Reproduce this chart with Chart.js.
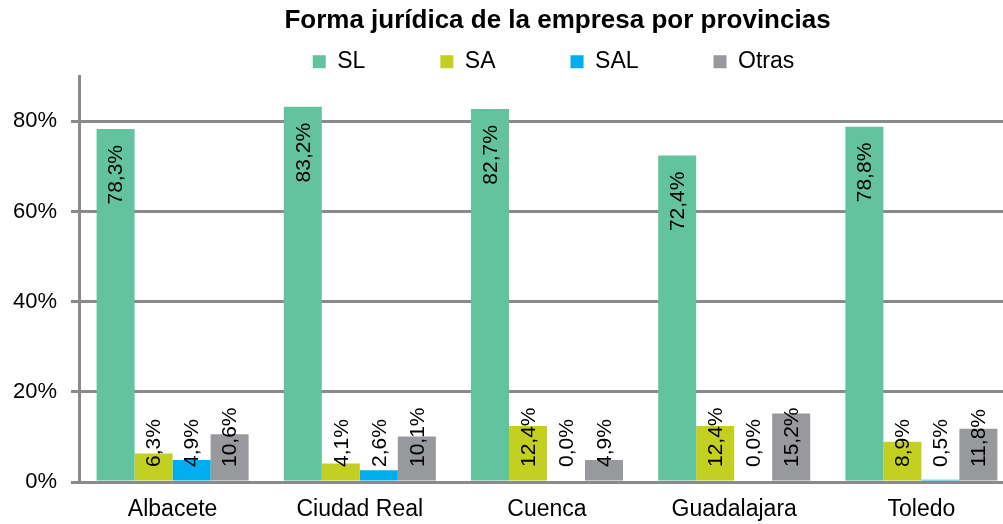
<!DOCTYPE html>
<html>
<head>
<meta charset="utf-8">
<script src="https://cdn.jsdelivr.net/npm/chart.js@4/dist/chart.umd.min.js"></script>
<style>
html,body{margin:0;padding:0;background:#fff;overflow:hidden;}
#wrap{position:absolute;left:0;top:0;width:1112px;height:524px;}
</style>
</head>
<body>
<div id="wrap"><canvas id="c"></canvas></div>
<script>
const categories = ['Albacete', 'Ciudad Real', 'Cuenca', 'Guadalajara', 'Toledo'];
const seriesNames = ['SL', 'SA', 'SAL', 'Otras'];
const slValues = [78.3, 83.2, 82.7, 72.4, 78.8];
const saValues = [6.3, 4.1, 12.4, 12.4, 8.9];
const salValues = [4.9, 2.6, 0.0, 0.0, 0.5];
const otrasValues = [10.6, 10.1, 4.9, 15.2, 11.8];
const yTicks = [0, 20, 40, 60, 80];
const titleText = 'Forma jurídica de la empresa por provincias';

const colors = ['#63C39E', '#C3CF21', '#00AEEF', '#98999D'];
const FONT = "'Liberation Sans', Arial, sans-serif";

const LEGEND_PAD = 75;
const LEGEND_H = 40;
const LEGEND_DY = -61;
const LEGEND_DX = 46;
const TITLE_DX = 50;

const boxShift = {
  id: 'boxShift',
  afterInit(chart) {
    const lg = chart.legend;
    if (lg) {
      const fit0 = lg.fit;
      lg.fit = function () { fit0.call(this); this.height = LEGEND_H; this.bottom = this.top + LEGEND_H; };
      const draw0 = lg.draw;
      lg.draw = function (a) {
        const t = this.top, l = this.left, r = this.right;
        this.top = t + LEGEND_DY; this.left = l + LEGEND_DX; this.right = r + LEGEND_DX;
        draw0.call(this, a);
        this.top = t; this.left = l; this.right = r;
      };
    }
    const tb = chart.titleBlock;
    if (tb) {
      const d0 = tb.draw;
      tb.draw = function (a) {
        const l = this.left, r = this.right;
        this.left = l + TITLE_DX; this.right = r + TITLE_DX;
        d0.call(this, a);
        this.left = l; this.right = r;
      };
    }
  }
};

const labelPlugin = {
  id: 'barLabels',
  afterDatasetsDraw(chart) {
    const ctx = chart.ctx;
    const yScale = chart.scales.y;
    const base = yScale.getPixelForValue(0);
    ctx.save();
    ctx.font = '21px ' + FONT;
    ctx.fillStyle = '#000';
    ctx.textBaseline = 'middle';
    ctx.textAlign = 'left';
    chart.data.datasets.forEach((ds, di) => {
      const meta = chart.getDatasetMeta(di);
      meta.data.forEach((bar, i) => {
        const v = ds.data[i];
        const txt = v.toFixed(1).replace('.', ',') + '%';
        const w = ctx.measureText(txt).width;
        const top = yScale.getPixelForValue(v);
        const bottom = Math.min(top + 16 + w, base - 15);
        ctx.save();
        ctx.translate(bar.x + 1, bottom);
        ctx.rotate(-Math.PI / 2);
        ctx.fillText(txt, 0, 0);
        ctx.restore();
      });
    });
    ctx.restore();
  }
};

new Chart(document.getElementById('c'), {
  type: 'bar',
  data: {
    labels: categories,
    datasets: [
      { label: seriesNames[0], data: slValues, backgroundColor: colors[0] },
      { label: seriesNames[1], data: saValues, backgroundColor: colors[1] },
      { label: seriesNames[2], data: salValues, backgroundColor: colors[2] },
      { label: seriesNames[3], data: otrasValues, backgroundColor: colors[3] }
    ]
  },
  options: {
    responsive: true,
    maintainAspectRatio: false,
    animation: false,
    layout: { padding: { left: 0, right: 97, top: 0, bottom: 0 } },
    datasets: { bar: { categoryPercentage: 0.812, barPercentage: 1.0 } },
    plugins: {
      tooltip: { enabled: false },
      title: {
        display: true,
        text: titleText,
        color: '#000',
        font: { family: FONT, size: 26, weight: 'bold', lineHeight: 1.2 },
        padding: { top: 5, bottom: 0 }
      },
      legend: {
        display: true,
        labels: {
          color: '#000',
          font: { family: FONT, size: 23 },
          boxWidth: 13,
          boxHeight: 13,
          padding: LEGEND_PAD
        }
      }
    },
    scales: {
      x: {
        grid: { display: false, drawTicks: false },
        border: { display: false },
        ticks: { color: '#000', font: { family: FONT, size: 23 }, padding: 14, maxRotation: 0 },
        afterFit(s) { s.height = 42; }
      },
      y: {
        min: 0,
        max: 90,
        ticks: {
          stepSize: 20,
          color: '#000',
          font: { family: FONT, size: 22 },
          padding: 14,
          callback: v => v + '%'
        },
        afterBuildTicks(s) { s.ticks = yTicks.map(v => ({ value: v })); },
        grid: { color: '#8A8A8C', lineWidth: 3, tickLength: 8, drawTicks: true },
        border: { display: true, color: '#8A8A8C', width: 3 },
        afterFit(s) { s.width = 79; }
      }
    }
  },
  plugins: [boxShift, labelPlugin]
});
</script>
</body>
</html>
